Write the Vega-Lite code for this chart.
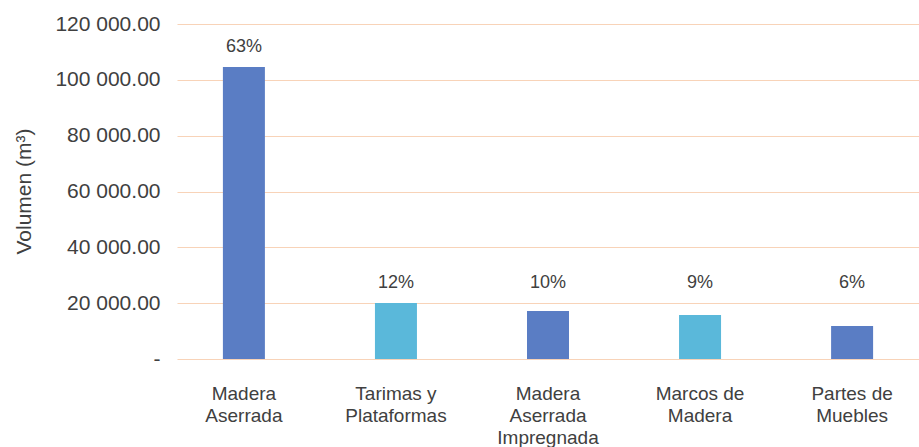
{
  "$schema": "https://vega.github.io/schema/vega-lite/v6.json",
  "width": 742,
  "height": 335,
  "autosize": "none",
  "padding": {"left": 177, "top": 24, "right": 0, "bottom": 88},
  "background": "white",
  "config": {
    "view": {"stroke": null},
    "font": "Liberation Sans",
    "axis": {"labelFont": "Liberation Sans", "titleFont": "Liberation Sans", "labelColor": "#404040", "titleColor": "#404040"}
  },
  "data": {
    "values": [
      {"categoria": "Madera Aserrada", "volumen": 104600, "pct": "63%", "pos_etiqueta": 111900},
      {"categoria": "Tarimas y Plataformas", "volumen": 20100, "pct": "12%", "pos_etiqueta": 27400},
      {"categoria": "Madera Aserrada Impregnada", "volumen": 17200, "pct": "10%", "pos_etiqueta": 27400},
      {"categoria": "Marcos de Madera", "volumen": 15800, "pct": "9%", "pos_etiqueta": 27400},
      {"categoria": "Partes de Muebles", "volumen": 11800, "pct": "6%", "pos_etiqueta": 27400}
    ]
  },
  "encoding": {
    "x": {
      "field": "categoria", "type": "nominal", "sort": null,
      "scale": {"paddingInner": 0.72, "paddingOuter": 0.3},
      "axis": {
        "title": null, "labelAngle": 0, "domain": false, "ticks": false,
        "labelFontSize": 19, "labelPadding": 25, "labelLineHeight": 22,
        "labelBaseline": "top",
        "labelExpr": "datum.value == 'Madera Aserrada' ? ['Madera','Aserrada'] : datum.value == 'Tarimas y Plataformas' ? ['Tarimas y','Plataformas'] : datum.value == 'Madera Aserrada Impregnada' ? ['Madera','Aserrada','Impregnada'] : datum.value == 'Marcos de Madera' ? ['Marcos de','Madera'] : ['Partes de','Muebles']"
      }
    }
  },
  "layer": [
    {
      "mark": {"type": "bar", "size": 42},
      "encoding": {
        "y": {
          "field": "volumen", "type": "quantitative",
          "scale": {"domain": [0, 120000]},
          "axis": {
            "title": "Volumen (m³)", "titleFontSize": 21, "titleFontWeight": "normal",
            "titleX": -153, "titleY": 167, "titleAngle": -90, "titleAlign": "center", "titleBaseline": "middle",
            "values": [0, 20000, 40000, 60000, 80000, 100000, 120000],
            "labelFontSize": 21, "labelPadding": 17,
            "labelExpr": "datum.value == 0 ? '-' : replace(format(datum.value, ',.2f'), /,/g, ' ')",
            "domain": false, "ticks": false,
            "grid": true, "gridColor": "#f8d3b8", "gridWidth": 1.2
          }
        },
        "color": {
          "field": "categoria", "type": "nominal", "sort": null, "legend": null,
          "scale": {"range": ["#5a7dc4", "#5ab8da", "#5a7dc4", "#5ab8da", "#5a7dc4"]}
        }
      }
    },
    {
      "mark": {"type": "text", "baseline": "middle", "fontSize": 18, "color": "#404040", "font": "Liberation Sans"},
      "encoding": {
        "y": {"field": "pos_etiqueta", "type": "quantitative"},
        "text": {"field": "pct"}
      }
    }
  ]
}
